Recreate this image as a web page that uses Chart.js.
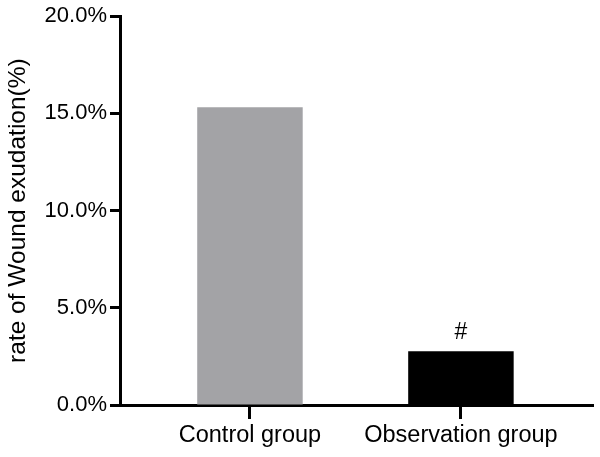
<!DOCTYPE html>
<html>
<head>
<meta charset="utf-8">
<script src="https://cdn.jsdelivr.net/npm/chart.js@4/dist/chart.umd.min.js"></script>
<style>
  html, body { margin: 0; padding: 0; background: #ffffff; }
  #wrap { width: 600px; height: 457px; }
</style>
</head>
<body>
<div id="wrap"><canvas id="c" width="600" height="457"></canvas></div>
<script>
const categories = ['Control group', 'Observation group'];
const rates = [15.32, 2.77];
const barColors = ['#a3a3a6', '#000000'];
const marks = ['', '#'];
const yTickValues = [0, 5, 10, 15, 20];
const yTitle = 'rate of Wound exudation(%)';

const FONT = "'Liberation Sans', Arial, Helvetica, sans-serif";

const markPlugin = {
  id: 'marks',
  afterDatasetsDraw(chart) {
    const ctx = chart.ctx;
    const meta = chart.getDatasetMeta(0);
    ctx.save();
    ctx.fillStyle = '#000';
    ctx.font = '23px ' + FONT;
    ctx.textAlign = 'center';
    ctx.textBaseline = 'alphabetic';
    meta.data.forEach((bar, i) => {
      if (marks[i]) ctx.fillText(marks[i], bar.x, bar.y - 12);
    });
    ctx.restore();
  }
};

new Chart(document.getElementById('c'), {
  type: 'bar',
  data: {
    datasets: [{
      data: categories.map((c, i) => ({ x: i, y: rates[i] })),
      backgroundColor: barColors,
      borderWidth: 0,
      barPercentage: 0.5,
      categoryPercentage: 1.0
    }]
  },
  options: {
    responsive: false,
    animation: false,
    devicePixelRatio: 1,
    layout: { padding: { top: 15, right: 7, bottom: 0, left: 0 } },
    plugins: { legend: { display: false }, tooltip: { enabled: false } },
    scales: {
      x: {
        type: 'linear',
        min: -0.616,
        max: 1.626,
        offset: false,
        afterBuildTicks(scale) { scale.ticks = categories.map((c, i) => ({ value: i })); },
        afterFit(scale) { scale.height = 52; },
        ticks: {
          callback: (v) => categories[v] ?? '',
          color: '#000',
          font: { family: FONT, size: 23.5 },
          padding: 2,
          maxRotation: 0,
          autoSkip: false
        },
        grid: {
          display: true,
          offset: false,
          drawOnChartArea: false,
          drawTicks: true,
          tickLength: 14,
          tickColor: '#000',
          tickWidth: 3
        },
        border: { display: true, color: '#000', width: 3 }
      },
      y: {
        min: 0,
        max: 20,
        afterBuildTicks(scale) { scale.ticks = yTickValues.map(v => ({ value: v })); },
        afterFit(scale) { scale.width = 120; },
        ticks: {
          callback: (v) => v.toFixed(1) + '%',
          color: '#000',
          font: { family: FONT, size: 22 },
          padding: 3
        },
        grid: {
          display: true,
          offset: false,
          drawOnChartArea: false,
          drawTicks: true,
          tickLength: 10,
          tickColor: '#000',
          tickWidth: 3
        },
        border: { display: true, color: '#000', width: 3 },
        title: {
          display: true,
          text: yTitle,
          color: '#000',
          font: { family: FONT, size: 24.5 },
          padding: { top: 4, bottom: 0 }
        }
      }
    }
  },
  plugins: [markPlugin]
});
</script>
</body>
</html>
